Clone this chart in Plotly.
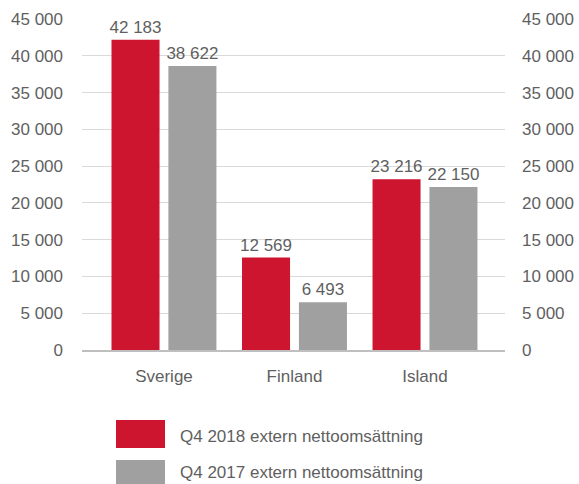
import plotly.graph_objects as go

categories = ["Sverige", "Finland", "Island"]
series_names = ["Q4 2018 extern nettoomsättning", "Q4 2017 extern nettoomsättning"]
values_2018 = [42183, 12569, 23216]
values_2017 = [38622, 6493, 22150]
colors = ["#CE1530", "#A0A0A0"]
y_ticks = [0, 5000, 10000, 15000, 20000, 25000, 30000, 35000, 40000, 45000]

FONT = dict(family="Liberation Sans, Arial, sans-serif", size=17, color="#5F5F5F")

fig = go.Figure()
x_idx = list(range(len(categories)))
for vals, name, col, off in [(values_2018, series_names[0], colors[0], -0.402),
                             (values_2017, series_names[1], colors[1], 0.034)]:
    fig.add_trace(go.Bar(
        x=x_idx, y=vals, name=name, marker=dict(color=col, line=dict(width=0)),
        width=0.368, offset=off,
        text=vals, texttemplate="%{y:,d}", textposition="outside",
        textfont=FONT, cliponaxis=False, constraintext="none", showlegend=False,
        hoverinfo="skip",
    ))

# legend drawn manually (rectangular swatches)
W = 579 - 82 - 74
H = 484 - 19 - 134
def px_x(p):
    return (p - 82) / W
def px_y(p):
    return (350 - p) / H

shapes = []
annotations = []
for i, (name, col) in enumerate(zip(series_names, colors)):
    top = 420 + i * 40
    shapes.append(dict(type="rect", xref="paper", yref="paper",
                       x0=px_x(116), x1=px_x(165), y0=px_y(top), y1=px_y(top + 28),
                       fillcolor=col, line=dict(width=0)))
    annotations.append(dict(xref="paper", yref="paper", x=px_x(178),
                            y=px_y(top + 16 - 3 * i),
                            text=name, showarrow=False, xanchor="left", yanchor="middle",
                            font=FONT))

fig.update_layout(
    width=579, height=484,
    margin=dict(l=82, r=74, t=19, b=134, autoexpand=False),
    plot_bgcolor="white", paper_bgcolor="white",
    separators=", ",
    font=FONT,
    showlegend=False,
    shapes=shapes, annotations=annotations,
    xaxis=dict(range=[-0.628, 2.613], tickvals=x_idx, ticktext=categories,
               showgrid=False, zeroline=False, showline=True, linecolor="#BFBFBF",
               linewidth=1.5, ticks="", ticklabelstandoff=10, tickfont=FONT,
               automargin=False),
    yaxis=dict(range=[0, 45000], tickvals=y_ticks, tickformat=",d",
               showgrid=True, gridcolor="#D9D9D9", gridwidth=1, zeroline=False,
               showline=False, ticks="", ticklabelstandoff=18, tickfont=FONT,
               automargin=False),
    yaxis2=dict(range=[0, 45000], tickvals=y_ticks, tickformat=",d", overlaying="y",
                side="right", showgrid=False, zeroline=False, showline=False,
                ticks="", ticklabelstandoff=16, tickfont=FONT, automargin=False),
)
# invisible trace to ensure right axis renders
fig.add_trace(go.Scatter(x=[0], y=[0], yaxis="y2", mode="markers",
                         marker=dict(opacity=0), showlegend=False, hoverinfo="skip"))

fig.write_html("out.html", config={"displayModeBar": False},
               post_script="document.body.style.margin='0';document.body.style.overflow='hidden';")
